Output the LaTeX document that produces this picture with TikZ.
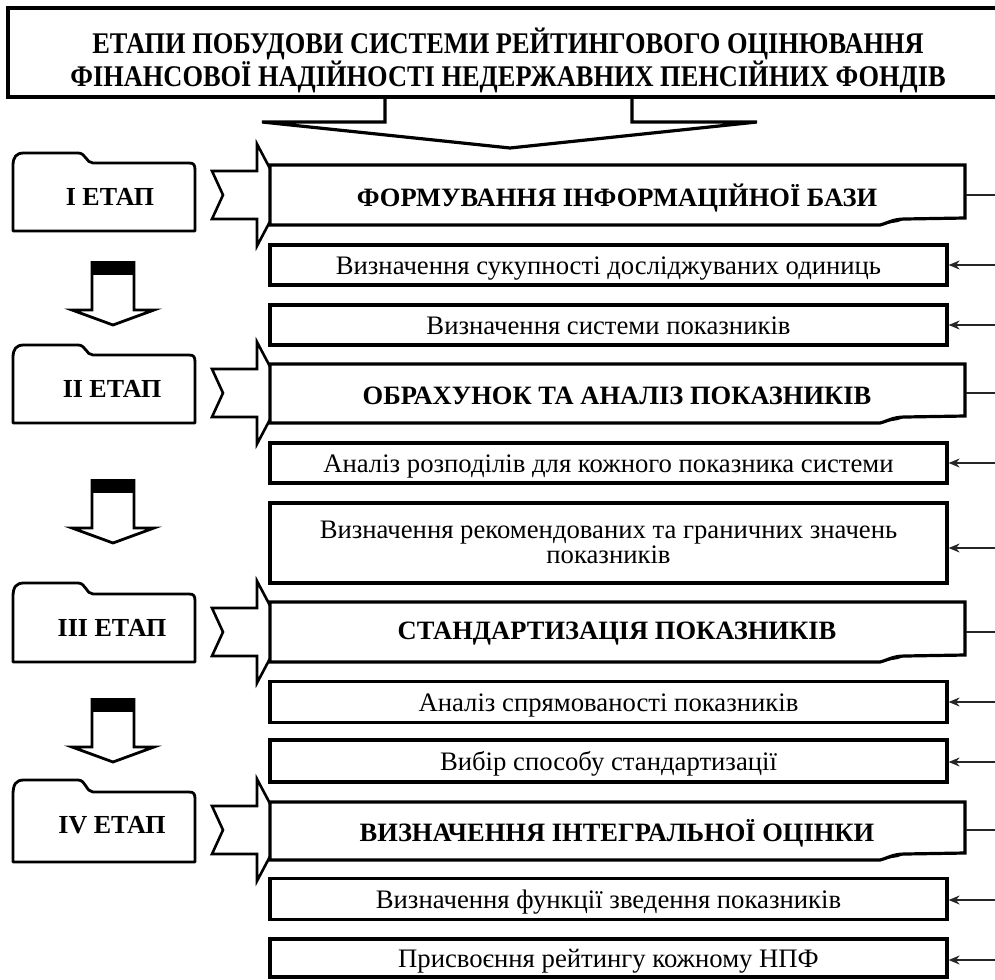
\documentclass[tikz,border=0pt]{standalone}
\usepackage{fontspec}
\setmainfont{Liberation Serif}
\newfontfamily\condfont[FakeStretch=0.88]{Liberation Serif}
\usetikzlibrary{arrows.meta}
\tikzset{
  boxline/.style={line width=3.2pt, draw=black},
  subbox/.style={draw=black, line width=3.2pt, fill=white, minimum width=677pt, minimum height=40pt, inner sep=0pt, font=\fontsize{26.7}{25}\selectfont, align=center, text height=20pt, text depth=2pt},
  headtext/.style={font=\fontsize{26.5}{28}\selectfont\bfseries, inner sep=0pt},
  stagetext/.style={font=\fontsize{26}{28}\selectfont\bfseries, inner sep=0pt},
  thinline/.style={line width=1.5pt, draw=black!85},
  inarrow/.style={thinline, -{Stealth[length=11pt, width=9pt]}},
}
\newcommand\headshape[2]{%
  \draw[boxline, fill=white, line join=miter] (270,#1) -- (965,#1) -- (965,#2-7) -- (905,#2-6)
    .. controls (893,#2-6) and (888,#2-2) .. (880,#2) -- (270,#2) -- cycle;
  \fill[black] (880,#2) .. controls (892,#2-6) .. (906,#2-6) -- (898,#2-3) -- cycle;}
\newcommand\foldershape[3]{%
  \draw[line width=2.8pt, draw=black, line join=round] (13,#3) -- (13,#2+3)
    .. controls (13,#1+4) and (16,#1) .. (24,#1) -- (78,#1)
    .. controls (86,#1) and (86,#2) .. (93,#2) -- (189,#2)
    .. controls (194,#2) and (195,#2+2) .. (195,#2+7) -- (195,#3) -- cycle;}
\newcommand\chevshape[1]{%
  \draw[line width=2.6pt, draw=black, fill=white, line join=miter]
    (212,#1-24) -- (257,#1-24) -- (257,#1-51) -- (284,#1) -- (257,#1+51) -- (257,#1+24)
    -- (212,#1+24) -- (223,#1) -- cycle;}
\newcommand\downshape[1]{%
  \fill[black] (92,#1) rectangle (134,#1+14);
  \draw[line width=2.8pt, draw=black, line join=miter]
    (92,#1) -- (92,#1+49) -- (72,#1+49) -- (113,#1+64) -- (154,#1+49) -- (134,#1+49) -- (134,#1);}
\begin{document}
\begin{tikzpicture}[x=1pt,y=-1pt]
\useasboundingbox (0,0) rectangle (995,979);
% banner
\draw[boxline] (1010,8) -- (8,8) -- (8,97) -- (1010,97);
\node (title) [font=\fontsize{30}{30}\selectfont\condfont\bfseries, align=center, inner sep=0pt] at (508,60)
  {ЕТАПИ ПОБУДОВИ СИСТЕМИ РЕЙТИНГОВОГО ОЦІНЮВАННЯ\\ФІНАНСОВОЇ НАДІЙНОСТІ НЕДЕРЖАВНИХ ПЕНСІЙНИХ ФОНДІВ};
\draw[boxline, line join=miter] (385,97) -- (385,122) -- (262,122) -- (510,148) -- (757,122) -- (632,122) -- (632,97);

% stage folders
\foldershape{153}{163}{231}
\node (st1) [stagetext] at (110,197) {I ЕТАП};
\foldershape{345}{355}{423}
\node (st2) [stagetext] at (112,389) {II ЕТАП};
\foldershape{583}{594}{662}
\node (st3) [stagetext] at (112,628) {III ЕТАП};
\foldershape{780}{792}{862}
\node (st4) [stagetext] at (112,825) {IV ЕТАП};

% down arrows
\downshape{261}
\downshape{479}
\downshape{698}

% chevrons
\chevshape{195}
\chevshape{393}
\chevshape{632}
\chevshape{830}

% headings
\headshape{165}{225}
\node (h1) [headtext] at (617,198) {ФОРМУВАННЯ ІНФОРМАЦІЙНОЇ БАЗИ};
\headshape{364}{423}
\node (h2) [headtext] at (617,396) {ОБРАХУНОК ТА АНАЛІЗ ПОКАЗНИКІВ};
\headshape{602}{662}
\node (h3) [headtext] at (617,634) {СТАНДАРТИЗАЦІЯ ПОКАЗНИКІВ};
\headshape{802}{860}
\node (h4) [headtext] at (617,833) {ВИЗНАЧЕННЯ ІНТЕГРАЛЬНОЇ ОЦІНКИ};

% sub boxes
\node (s1) [subbox] at (608.5,265) {Визначення сукупності досліджуваних одиниць};
\node (s2) [subbox] at (608.5,325) {Визначення системи показників};
\node (s3) [subbox] at (608.5,463) {Аналіз розподілів для кожного показника системи};
\node (s4) [subbox, minimum height=80pt, text height=42pt, text depth=2pt] at (608.5,543) {Визначення рекомендованих та граничних значень\\показників};
\node (s5) [subbox, minimum height=41pt] at (608.5,702) {Аналіз спрямованості показників};
\node (s6) [subbox, minimum height=42pt] at (608.5,761) {Вибір способу стандартизації};
\node (s7) [subbox, minimum height=41pt] at (608.5,899) {Визначення функції зведення показників};
\node (s8) [subbox, minimum height=38pt] at (608.5,958) {Присвоєння рейтингу кожному НПФ};

% right connectors
\coordinate (h1r) at (966,195); \coordinate (e1) at (995,195);
\coordinate (h2r) at (966,393); \coordinate (e2) at (995,393);
\coordinate (h3r) at (966,632); \coordinate (e3) at (995,632);
\coordinate (h4r) at (966,830); \coordinate (e4) at (995,830);
\draw[thinline] (h1r) -- (e1);
\draw[thinline] (h2r) -- (e2);
\draw[thinline] (h3r) -- (e3);
\draw[thinline] (h4r) -- (e4);
\coordinate (r1) at (995,265);
\coordinate (r2) at (995,325);
\coordinate (r3) at (995,463);
\coordinate (r4) at (995,548);
\coordinate (r5) at (995,702);
\coordinate (r6) at (995,762);
\coordinate (r7) at (995,900);
\coordinate (r8) at (995,960);
\draw[inarrow] (r1) -- (s1.east |- r1);
\draw[inarrow] (r2) -- (s2.east |- r2);
\draw[inarrow] (r3) -- (s3.east |- r3);
\draw[inarrow] (r4) -- (s4.east |- r4);
\draw[inarrow] (r5) -- (s5.east |- r5);
\draw[inarrow] (r6) -- (s6.east |- r6);
\draw[inarrow] (r7) -- (s7.east |- r7);
\draw[inarrow] (r8) -- (s8.east |- r8);
\end{tikzpicture}
\end{document}
